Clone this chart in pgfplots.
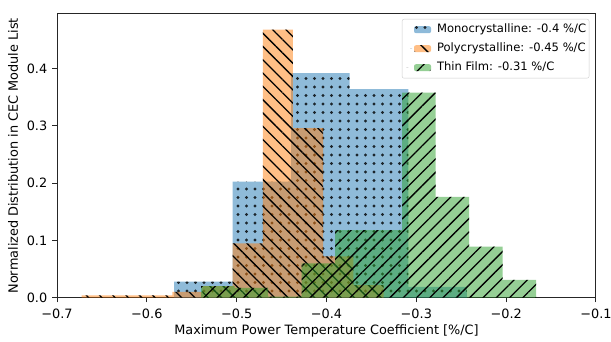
\documentclass[border=0pt]{standalone}
\usepackage{fontspec}
\setmainfont{DejaVu Sans}
\usepackage{pgfplots}
\pgfplotsset{compat=1.18}
\usetikzlibrary{patterns.meta}
\definecolor{tabblue}{RGB}{31,119,180}
\definecolor{taborange}{RGB}{255,127,14}
\definecolor{tabgreen}{RGB}{44,160,44}
\newcommand{\lblfont}{\fontsize{12.9}{15}\selectfont}
\newcommand{\legfont}{\fontsize{11.6}{13}\selectfont}
\tikzset{
  pblue/.style={pattern={Dots[radius=1.7bp,distance=8.5bp]}, pattern color=black},
  porange/.style={pattern={Lines[angle=-45,distance=9.4bp,line width=1.3bp]}, pattern color=black},
  pgreen/.style={pattern={Lines[angle=45,distance=9.4bp,line width=1.3bp]}, pattern color=black},
}
\begin{document}
\begin{tikzpicture}
\path[use as bounding box] (-57bp,-44.3bp) rectangle (554bp,297.7bp);
\begin{axis}[
  at={(0,0)}, anchor=south west,
  scale only axis, width=539bp, height=283.7bp,
  xmin=-0.7, xmax=-0.1, ymin=0, ymax=0.4951,
  xtick={-0.7,-0.6,-0.5,-0.4,-0.3,-0.2,-0.1},
  xticklabels={−0.7,−0.6,−0.5,−0.4,−0.3,−0.2,−0.1},
  ytick={0,0.1,0.2,0.3,0.4},
  yticklabels={0.0,0.1,0.2,0.3,0.4},
  tick align=outside, xtick pos=bottom, ytick pos=left,
  major tick length=4.6bp,
  every tick/.style={black!85, line width=1bp},
  axis line style={black!85, line width=1bp},
  xticklabel style={font=\lblfont, anchor=base, inner sep=0pt, yshift=-16.5bp},
  yticklabel style={font=\lblfont, anchor=east, inner sep=0pt, xshift=-5bp},
  xlabel={Maximum Power Temperature Coefficient [\%/C]},
  ylabel={Normalized Distribution in CEC Module List},
  every axis x label/.style={at={(axis description cs:0.5,0)}, anchor=base, yshift=-36.5bp, font=\lblfont},
  every axis y label/.style={at={(axis description cs:0,0.5)}, xshift=-44bp, anchor=center, rotate=90, font=\lblfont},
  legend cell align=left,
  legend style={at={(axis description cs:1,1)}, anchor=north east, xshift=-6.7bp, yshift=-5bp,
    draw=black!20, rounded corners=2bp, fill=white, fill opacity=0.8, text opacity=1,
    font=\legfont, inner xsep=3bp, inner ysep=5bp, row sep=8bp, /tikz/column sep=6bp,
    nodes={inner sep=0pt, text height=8.6bp, text depth=2.4bp}},
]
% Monocrystalline
\addplot[ybar interval, draw=none, fill=tabblue, fill opacity=0.5, forget plot] coordinates {
(-0.5697,0.028) (-0.5046,0.2025) (-0.4393,0.392) (-0.3742,0.364) (-0.3089,0.019) (-0.2438,0.019)};
\addplot[ybar interval, draw=none, pblue, fill opacity=0.8,
  legend image code/.code={\path (0bp,0bp) -- (26bp,0bp);
    \path[fill=tabblue, fill opacity=0.5] (9bp,-3.5bp) rectangle (26bp,3.5bp);
    \path[pblue, fill opacity=0.8] (9bp,-3.5bp) rectangle (26bp,3.5bp);}] coordinates {
(-0.5697,0.028) (-0.5046,0.2025) (-0.4393,0.392) (-0.3742,0.364) (-0.3089,0.019) (-0.2438,0.019)};
\addlegendentry{Monocrystalline: -0.4 \%/C}
% Polycrystalline
\addplot[ybar interval, draw=none, fill=taborange, fill opacity=0.5, forget plot] coordinates {
(-0.6725,0.004) (-0.6389,0.004) (-0.6053,0.004) (-0.5717,0.010) (-0.5381,0.020)
(-0.5045,0.095) (-0.4709,0.468) (-0.4373,0.296) (-0.4037,0.072) (-0.3701,0.022) (-0.3365,0.022)};
\addplot[ybar interval, draw=none, porange, fill opacity=0.6,
  legend image code/.code={\path (0bp,0bp) -- (26bp,0bp);
    \path[fill=taborange, fill opacity=0.5] (9bp,-3.5bp) rectangle (26bp,3.5bp);
    \path[porange, fill opacity=0.6] (9bp,-3.5bp) rectangle (26bp,3.5bp);}] coordinates {
(-0.6725,0.004) (-0.6389,0.004) (-0.6053,0.004) (-0.5717,0.010) (-0.5381,0.020)
(-0.5045,0.095) (-0.4709,0.468) (-0.4373,0.296) (-0.4037,0.072) (-0.3701,0.022) (-0.3365,0.022)};
\addlegendentry{Polycrystalline: -0.45 \%/C}
% Thin film
\addplot[ybar interval, draw=none, fill=tabgreen, fill opacity=0.5, forget plot] coordinates {
(-0.5396,0.020) (-0.5023,0.017) (-0.4650,0.002) (-0.4277,0.060) (-0.3904,0.118)
(-0.3531,0.118) (-0.3158,0.358) (-0.2785,0.176) (-0.2412,0.089) (-0.2039,0.031) (-0.1666,0.031)};
\addplot[ybar interval, draw=none, pgreen, fill opacity=0.6,
  legend image code/.code={\path (0bp,0bp) -- (26bp,0bp);
    \path[fill=tabgreen, fill opacity=0.5] (9bp,-3.5bp) rectangle (26bp,3.5bp);
    \path[pgreen, fill opacity=0.6] (9bp,-3.5bp) rectangle (26bp,3.5bp);}] coordinates {
(-0.5396,0.020) (-0.5023,0.017) (-0.4650,0.002) (-0.4277,0.060) (-0.3904,0.118)
(-0.3531,0.118) (-0.3158,0.358) (-0.2785,0.176) (-0.2412,0.089) (-0.2039,0.031) (-0.1666,0.031)};
\addlegendentry{Thin Film: -0.31 \%/C}
\end{axis}
\end{tikzpicture}
\end{document}
